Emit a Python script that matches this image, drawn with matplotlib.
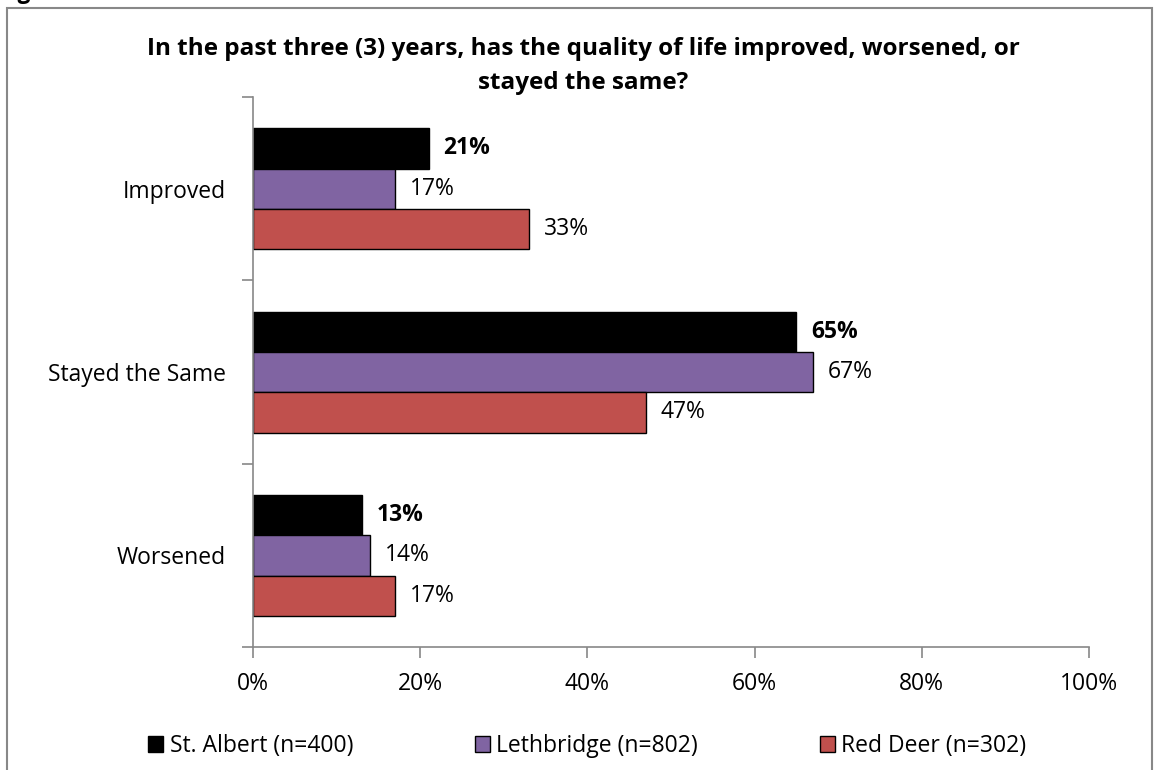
import matplotlib

matplotlib.use("Agg")
import matplotlib.pyplot as plt
import numpy as np
from matplotlib.patches import Rectangle

categories = ["Improved", "Stayed the Same", "Worsened"]
series = ["St. Albert (n=400)", "Lethbridge (n=802)", "Red Deer (n=302)"]
st_albert = [21, 65, 13]
lethbridge = [17, 67, 14]
red_deer = [33, 47, 17]
colors = ["#000000", "#8064A2", "#C0504D"]
title = "In the past three (3) years, has the quality of life improved, worsened, or\nstayed the same?"

plt.rcParams.update({"font.family": ["Open Sans", "DejaVu Sans"]})
FS = 16.5

fig = plt.figure(figsize=(11.54, 7.7), dpi=100)
ax = fig.add_axes([253 / 1154, 1 - 647 / 770, (1089 - 253) / 1154, (647 - 97) / 770])

# outer frame of the chart area
fig.patches.append(Rectangle((7 / 1154, -0.1), (1152 - 7) / 1154, 1.1 - 8 / 770,
                             transform=fig.transFigure, fill=False, ec="#888888", lw=1.5))
fig.text(-2 / 1154, 1 + 8 / 770, "Figure", fontsize=FS, fontweight="bold", ha="left", va="center")

values = [st_albert, lethbridge, red_deer]
y = np.arange(len(categories))
h = 0.22
for i, (vals, c) in enumerate(zip(values, colors)):
    pos = y + (i - 1) * h
    ax.barh(pos, vals, height=h, color=c, edgecolor="black", linewidth=1.0, label=series[i])
    for p, v in zip(pos, vals):
        ax.text(v + 1.8, p, f"{v}%", va="center", ha="left", fontsize=FS,
                fontweight="bold" if i == 0 else "normal")

ax.set_xlim(0, 100)
ax.set_ylim(2.5, -0.5)
ax.set_xticks(np.arange(0, 101, 20))
ax.set_xticklabels([f"{t}%" for t in range(0, 101, 20)], fontsize=FS)
ax.set_yticks(y)
ax.set_yticklabels(categories, fontsize=FS)
ax.set_yticks([-0.5, 0.5, 1.5, 2.5], minor=True)
ax.tick_params(axis="y", which="major", length=0, pad=19.5)
ax.tick_params(axis="y", which="minor", length=8, color="#888888", width=1.2)
ax.tick_params(axis="x", length=8, color="#888888", width=1.2, pad=10, direction="out")
for s in ["top", "right"]:
    ax.spines[s].set_visible(False)
for s in ["left", "bottom"]:
    ax.spines[s].set_color("#888888")
    ax.spines[s].set_linewidth(1.2)

fig.suptitle(title, x=583 / 1154, y=1 - 37 / 770, fontsize=17.5, fontweight="bold", va="top",
             linespacing=1.55)

fig.legend(loc="center left", bbox_to_anchor=(148 / 1154, 1 - 746 / 770), ncol=3, frameon=False,
           fontsize=FS, handlelength=0.65, handleheight=0.65, handletextpad=0.3,
           columnspacing=5.3, borderaxespad=0, borderpad=0)

fig.savefig("out.png", dpi=100)
